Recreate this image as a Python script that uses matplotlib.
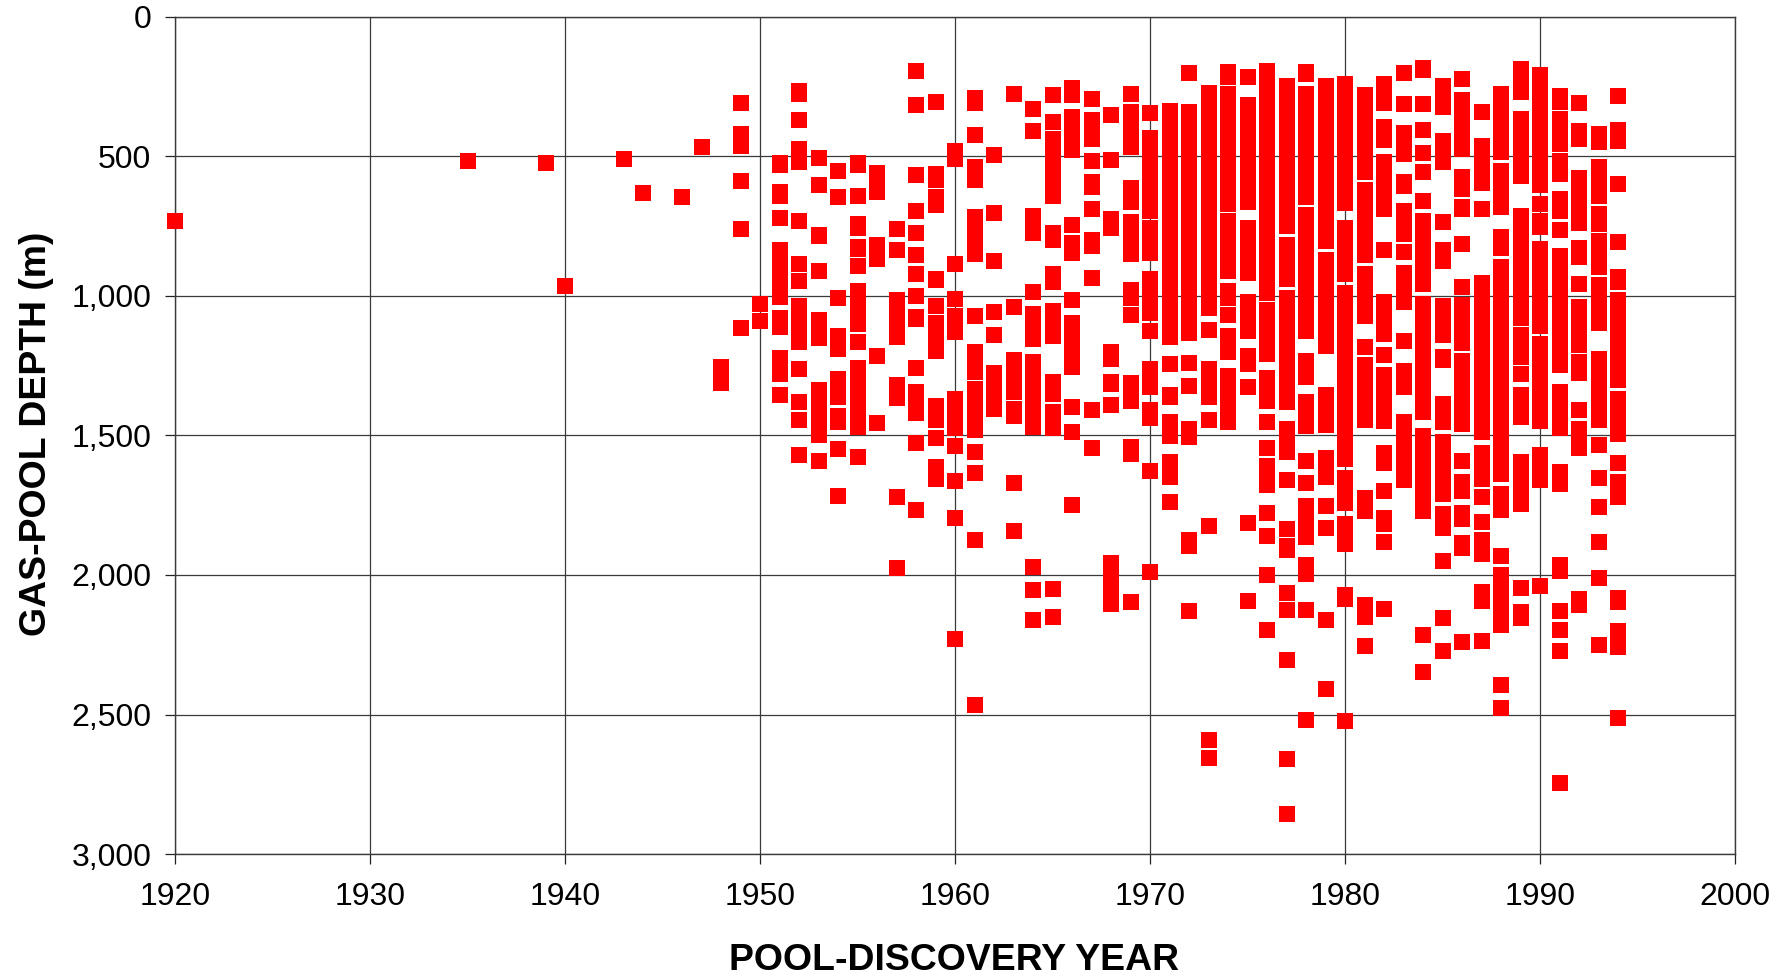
import matplotlib
matplotlib.use("Agg")
import matplotlib.pyplot as plt

plt.rcParams['font.family'] = ['Liberation Sans', 'DejaVu Sans']

early_years = [1920, 1935, 1939, 1940, 1943, 1944, 1946, 1947, 1948, 1948]
early_depths = [737, 518, 525, 970, 513, 634, 650, 470, 1262, 1320]

d1949 = [309, 422, 466, 590, 763, 1122]
d1950 = [1036, 1096]
d1951 = [525, 533, 631, 644, 724, 839, 880, 925, 965, 1009, 1084, 1119, 1228, 1285, 1361]
d1952 = [268, 278, 370, 477, 523, 737, 890, 950, 1042, 1085, 1130, 1173, 1270, 1386, 1453, 1577]
d1953 = [508, 605, 786, 790, 917, 1091, 1125, 1156, 1346, 1390, 1417, 1472, 1508, 1602]
d1954 = [555, 649, 1013, 1150, 1195, 1303, 1336, 1369, 1438, 1458, 1557, 1727]
d1955 = [525, 533, 646, 745, 761, 830, 835, 899, 988, 1030, 1070, 1105, 1171, 1265, 1310, 1355, 1400, 1440, 1476, 1584]
d1956 = [562, 600, 630, 822, 871, 1222, 1465]
d1957 = [763, 838, 1019, 1065, 1110, 1155, 1328, 1372, 1730, 1986]
d1958 = [194, 316, 568, 698, 778, 858, 928, 1004, 1082, 1090, 1264, 1353, 1395, 1429, 1536, 1775]
d1959 = [307, 566, 587, 650, 677, 943, 949, 1042, 1103, 1150, 1204, 1401, 1451, 1518, 1621, 1666]
d1960 = [482, 511, 892, 1018, 1078, 1135, 1376, 1423, 1482, 1547, 1673, 1806, 2241]
d1961 = [293, 311, 424, 539, 587, 720, 765, 810, 853, 1078, 1206, 1245, 1279, 1342, 1390, 1440, 1490, 1568, 1645, 1886, 2481]
d1962 = [497, 706, 878, 1063, 1147, 1283, 1330, 1375, 1411]
d1963 = [277, 1044, 1235, 1275, 1315, 1351, 1414, 1439, 1681, 1854]
d1964 = [332, 411, 718, 750, 779, 990, 1070, 1115, 1159, 1242, 1273, 1328, 1375, 1425, 1477, 1983, 2065, 2173]
d1965 = [282, 379, 440, 485, 530, 575, 610, 644, 778, 803, 927, 956, 1059, 1115, 1149, 1314, 1357, 1423, 1482, 2062, 2162]
d1966 = [256, 282, 361, 400, 440, 479, 748, 815, 849, 1021, 1102, 1145, 1190, 1230, 1263, 1406, 1496, 1759]
d1967 = [296, 371, 405, 440, 518, 593, 613, 692, 802, 824, 942, 1416, 1554]
d1968 = [352, 516, 729, 759, 1209, 1231, 1315, 1321, 1399, 1967, 2010, 2058, 2115]
d1969 = [277, 344, 390, 430, 469, 617, 667, 738, 780, 815, 853, 984, 1011, 1075, 1319, 1355, 1385, 1548, 1574, 2108]
d1970 = [346, 437, 480, 525, 570, 610, 655, 700, 759, 805, 849, 943, 980, 1010, 1066, 1132, 1267, 1300, 1333, 1415, 1444, 1638, 2001]
d1971 = [338, 385, 430, 475, 520, 565, 610, 655, 700, 745, 790, 835, 880, 925, 970, 1014, 1069, 1110, 1155, 1252, 1363, 1369, 1461, 1509, 1605, 1635, 1659, 1749]
d1972 = [203, 343, 390, 435, 480, 525, 570, 615, 660, 705, 750, 795, 840, 885, 930, 975, 1020, 1065, 1105, 1138, 1246, 1330, 1484, 1512, 1886, 1908, 2141]
d1973 = [274, 300, 357, 400, 445, 490, 535, 580, 625, 670, 715, 760, 805, 850, 895, 940, 985, 1020, 1049, 1127, 1267, 1315, 1368, 1453, 1833, 2604, 2669]
d1974 = [197, 216, 278, 325, 370, 415, 460, 505, 550, 595, 640, 674, 737, 780, 820, 858, 917, 988, 1012, 1075, 1148, 1180, 1209, 1295, 1301, 1357, 1413, 1461]
d1975 = [216, 317, 365, 410, 455, 500, 545, 590, 635, 667, 760, 805, 850, 885, 921, 1027, 1075, 1131, 1221, 1249, 1333, 1825, 2104]
d1976 = [194, 240, 285, 330, 375, 420, 465, 510, 555, 600, 645, 690, 735, 780, 825, 870, 915, 960, 996, 1057, 1105, 1150, 1195, 1214, 1301, 1345, 1383, 1461, 1555, 1619, 1650, 1685, 1788, 1872, 2011, 2210]
d1977 = [249, 295, 340, 385, 430, 475, 520, 565, 610, 655, 700, 752, 820, 865, 905, 943, 1012, 1060, 1105, 1150, 1195, 1240, 1285, 1330, 1360, 1389, 1484, 1527, 1569, 1670, 1847, 1905, 1921, 2075, 2139, 2316, 2676, 2872]
d1978 = [200, 206, 278, 325, 370, 415, 460, 505, 550, 595, 620, 649, 712, 760, 805, 850, 895, 940, 985, 1030, 1075, 1105, 1131, 1239, 1297, 1387, 1430, 1473, 1602, 1678, 1764, 1810, 1845, 1875, 1975, 2008, 2138, 2534]
d1979 = [249, 295, 340, 385, 430, 470, 496, 550, 595, 640, 685, 730, 770, 807, 876, 920, 965, 1010, 1055, 1100, 1145, 1185, 1364, 1410, 1440, 1470, 1588, 1625, 1659, 1764, 1843, 2174, 2421]
d1980 = [240, 296, 340, 385, 430, 475, 520, 565, 610, 650, 671, 761, 805, 850, 890, 926, 994, 1040, 1085, 1130, 1175, 1220, 1250, 1271, 1328, 1375, 1420, 1465, 1510, 1555, 1594, 1660, 1705, 1750, 1829, 1865, 1900, 2082, 2098, 2538]
d1981 = [281, 325, 370, 415, 460, 505, 535, 559, 623, 670, 715, 760, 805, 830, 858, 925, 970, 1020, 1050, 1077, 1188, 1256, 1300, 1345, 1390, 1425, 1454, 1734, 1782, 2120, 2164, 2267]
d1982 = [243, 280, 310, 398, 444, 524, 570, 615, 660, 691, 838, 1028, 1070, 1110, 1144, 1217, 1290, 1335, 1380, 1420, 1456, 1570, 1606, 1707, 1804, 1828, 1893, 2134]
d1983 = [203, 312, 418, 455, 493, 594, 608, 700, 740, 781, 846, 922, 952, 1009, 1027, 1169, 1275, 1333, 1458, 1505, 1545, 1585, 1645, 1667]
d1984 = [183, 190, 313, 409, 490, 559, 663, 737, 780, 825, 870, 915, 961, 1036, 1080, 1125, 1170, 1215, 1260, 1305, 1350, 1390, 1425, 1509, 1545, 1570, 1628, 1635, 1689, 1735, 1782, 2227, 2360]
d1985 = [249, 290, 325, 447, 485, 523, 739, 839, 878, 1042, 1095, 1146, 1225, 1235, 1395, 1430, 1458, 1533, 1580, 1625, 1675, 1720, 1792, 1840, 1960, 2167, 2285]
d1986 = [224, 300, 345, 390, 435, 477, 575, 619, 685, 692, 819, 972, 1037, 1085, 1130, 1174, 1238, 1285, 1330, 1375, 1420, 1466, 1602, 1675, 1710, 1789, 1808, 1896, 1912, 2253]
d1987 = [343, 464, 524, 541, 600, 692, 959, 1005, 1050, 1095, 1140, 1185, 1230, 1275, 1320, 1365, 1405, 1438, 1494, 1570, 1620, 1666, 1729, 1821, 1885, 1936, 2074, 2105, 2250]
d1988 = [278, 325, 370, 415, 455, 487, 556, 600, 645, 685, 792, 832, 901, 945, 990, 1035, 1080, 1125, 1170, 1215, 1260, 1305, 1350, 1395, 1440, 1485, 1530, 1575, 1615, 1648, 1720, 1750, 1775, 1941, 2010, 2055, 2100, 2145, 2191, 2406, 2490]
d1989 = [188, 230, 271, 368, 415, 460, 505, 545, 574, 719, 765, 810, 855, 900, 945, 990, 1035, 1060, 1084, 1145, 1171, 1227, 1285, 1364, 1405, 1443, 1605, 1650, 1695, 1730, 1756, 2059, 2145, 2166]
d1990 = [210, 255, 300, 345, 390, 435, 480, 525, 565, 605, 675, 736, 756, 837, 880, 925, 972, 1031, 1075, 1113, 1178, 1225, 1270, 1315, 1360, 1410, 1457, 1580, 1625, 1667, 2051]
d1991 = [285, 307, 368, 415, 459, 518, 566, 657, 700, 767, 861, 905, 950, 1000, 1048, 1105, 1150, 1195, 1230, 1256, 1351, 1408, 1465, 1482, 1639, 1684, 1975, 1995, 2140, 2209, 2285, 2759]
d1992 = [310, 411, 441, 581, 625, 670, 705, 743, 833, 865, 961, 1044, 1085, 1124, 1181, 1245, 1282, 1415, 1484, 1520, 1554, 2098, 2119]
d1993 = [423, 451, 540, 590, 644, 710, 746, 807, 855, 901, 965, 1010, 1055, 1102, 1232, 1280, 1325, 1370, 1415, 1451, 1544, 1663, 1767, 1893, 2023, 2264]
d1994 = [286, 409, 447, 602, 810, 937, 955, 1019, 1065, 1110, 1155, 1200, 1245, 1285, 1307, 1376, 1418, 1473, 1504, 1609, 1675, 1705, 1730, 2094, 2110, 2213, 2271, 2526]

years = list(range(1949, 1995))
depth_lists = [d1949, d1950, d1951, d1952, d1953, d1954, d1955, d1956, d1957, d1958,
               d1959, d1960, d1961, d1962, d1963, d1964, d1965, d1966, d1967, d1968,
               d1969, d1970, d1971, d1972, d1973, d1974, d1975, d1976, d1977, d1978,
               d1979, d1980, d1981, d1982, d1983, d1984, d1985, d1986, d1987, d1988,
               d1989, d1990, d1991, d1992, d1993, d1994]

# My readings came from pixel positions with a slightly large metres-per-pixel figure.
READING_CALIBRATION = 0.9945

x_ticks = [1920, 1930, 1940, 1950, 1960, 1970, 1980, 1990, 2000]
y_ticks = [0, 500, 1000, 1500, 2000, 2500, 3000]
y_tick_labels = ['0', '500', '1,000', '1,500', '2,000', '2,500', '3,000']

W, H = 1791, 977
fig = plt.figure(figsize=(W / 100, H / 100), dpi=100, facecolor='white')
ax = fig.add_axes([175 / W, 1 - 854 / H, (1735 - 175) / W, (854 - 17) / H])

xs = list(early_years)
ys = [v * READING_CALIBRATION for v in early_depths]
for yr, dl in zip(years, depth_lists):
    xs.extend([yr] * len(dl))
    ys.extend(v * READING_CALIBRATION for v in dl)

ax.plot(xs, ys, linestyle='none', marker='s', markersize=11.0, markeredgewidth=0,
        color='#ff0000', clip_on=False, zorder=3)

ax.set_xlim(1920, 2000)
ax.set_ylim(3000, 0)
ax.set_xticks(x_ticks)
ax.set_yticks(y_ticks)
ax.set_yticklabels(y_tick_labels)
ax.grid(True, color='#3a3a3a', linewidth=0.9, zorder=1)
ax.set_axisbelow(True)
for s in ax.spines.values():
    s.set_color('#3a3a3a')
    s.set_linewidth(1.0)
ax.tick_params(axis='both', length=7, width=0.9, color='#222222', labelsize=23, labelcolor='#000000')
ax.tick_params(axis='y', pad=10)
ax.tick_params(axis='x', pad=13)

fig.text(954 / W, 1 - 961 / H, 'POOL-DISCOVERY YEAR', ha='center', va='center',
         fontsize=26.9, fontweight='bold')
fig.text(37 / W, 1 - 434 / H, 'GAS-POOL DEPTH (m)', ha='center', va='center', rotation=90,
         fontsize=26.9, fontweight='bold')

fig.savefig('out.png', dpi=100, facecolor='white')
